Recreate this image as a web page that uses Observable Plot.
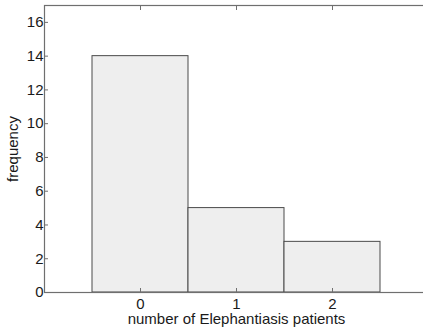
<!DOCTYPE html>
<html>
<head>
<meta charset="utf-8">
<script src="https://cdn.jsdelivr.net/npm/d3@7"></script>
<script src="https://cdn.jsdelivr.net/npm/@observablehq/plot@0.6"></script>
<style>
  html, body { margin: 0; padding: 0; background: #fff; overflow: hidden; }
  #chart svg { display: block; max-width: none !important; }
</style>
</head>
<body>
<div id="chart"></div>
<script>
// Histogram: number of Elephantiasis patients per household
const patients = [0, 1, 2];
const frequency = [14, 5, 3];
const yTicks = [0, 2, 4, 6, 8, 10, 12, 14, 16];

const rows = patients.map((n, i) => ({n, f: frequency[i]}));

const axisColor = "#6f6f6f";
const font = "'Liberation Sans', Arial, Helvetica, sans-serif";
const blank = () => "";
const intFmt = d3.format("d");

const plot = Plot.plot({
  width: 430,
  height: 329,
  marginLeft: 44,
  marginRight: 2,
  marginTop: 5,
  marginBottom: 37,
  style: {fontFamily: font, fontSize: "15px", color: "#1a1a1a", background: "#fff", maxWidth: "none"},
  x: {domain: [-1, 3]},
  y: {domain: [0, 17]},
  marks: [
    Plot.rectY(rows, {
      x1: d => d.n - 0.5,
      x2: d => d.n + 0.5,
      y: "f",
      fill: "#eeeeee",
      stroke: "#4a4a4a",
      strokeWidth: 1
    }),
    Plot.frame({stroke: axisColor, strokeWidth: 1.2}),
    // inward-pointing ticks on all four sides
    Plot.axisY({ticks: yTicks, anchor: "left", tickSize: 4, dx: 4, tickFormat: blank, label: null, stroke: axisColor}),
    Plot.axisY({ticks: yTicks, anchor: "right", tickSize: 4, dx: -4, tickFormat: blank, label: null, stroke: axisColor}),
    Plot.axisX({ticks: patients, anchor: "top", tickSize: 4, dy: 4, tickFormat: blank, label: null, stroke: axisColor}),
    Plot.axisX({ticks: patients, anchor: "bottom", tickSize: 4, dy: -4, tickFormat: blank, label: null, stroke: axisColor}),
    Plot.axisY({ticks: yTicks, tickSize: 0, tickPadding: 1, tickFormat: intFmt, label: null, fontSize: 15}),
    Plot.axisX({ticks: patients, tickSize: 0, tickPadding: 6, tickFormat: intFmt, label: null, fontSize: 15}),
    Plot.text(["number of Elephantiasis patients"], {
      frameAnchor: "bottom", dy: 31, fontSize: 15, lineAnchor: "bottom", fill: "#1a1a1a"
    }),
    Plot.text(["frequency"], {
      frameAnchor: "left", dx: -31, rotate: -90, textAnchor: "middle", fontSize: 15, fill: "#1a1a1a"
    })
  ]
});

document.getElementById("chart").appendChild(plot);
</script>
</body>
</html>
